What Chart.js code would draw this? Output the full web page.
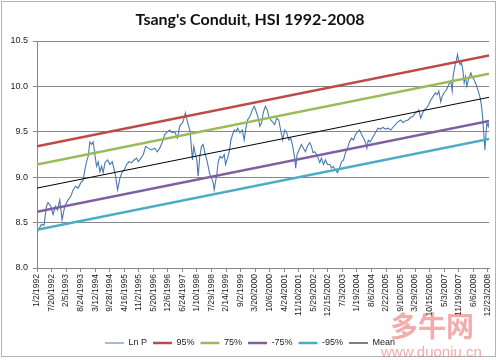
<!DOCTYPE html>
<html><head><meta charset="utf-8">
<script src="https://cdn.jsdelivr.net/npm/chart.js@4/dist/chart.umd.min.js"></script>
<style>html,body{margin:0;padding:0;background:#fff}#wrap{width:500px;height:360px}</style>
</head><body><div id="wrap"><canvas id="c" width="500" height="360"></canvas></div>
<script>
const xTickLabels = ['1/2/1992','7/20/1992','2/5/1993','8/24/1993','3/12/1994','9/28/1994','4/16/1995','11/2/1995','5/20/1996','12/6/1996','6/24/1997','1/10/1998','7/29/1998','2/14/1999','9/2/1999','3/20/2000','10/6/2000','4/24/2001','11/10/2001','5/29/2002','12/15/2002','7/3/2003','1/19/2004','8/6/2004','2/22/2005','9/10/2005','3/29/2006','10/15/2006','5/3/2007','11/19/2007','6/6/2008','12/23/2008'];
const tickStepDays = 200;
const axisEndDay = 6218;
const yTicks = [8.0, 8.5, 9.0, 9.5, 10.0, 10.5];

// Days since 1/2/1992
const lnpDays = [
0,60,97,129,152,189,221,253,281,313,
345,382,428,465,497,529,566,603,635,658,
681,704,727,750,773,796,819,842,865,888,
911,934,970,1003,1035,1062,1081,1108,1140,1173,
1200,1232,1265,1301,1338,1370,1393,1430,1462,1494,
1531,1573,1619,1655,1688,1720,1756,1793,1825,1858,
1894,1931,1963,2009,2041,2069,2087,2106,2124,2138,
2156,2179,2198,2216,2239,2262,2285,2308,2336,2354,
2377,2400,2423,2437,2455,2473,2492,2519,2547,2575,
2593,2621,2648,2667,2690,2713,2736,2759,2791,2823,
2850,2873,2896,2929,2961,2989,3020,3043,3066,3089,
3112,3140,3168,3186,3213,3241,3269,3296,3324,3351,
3379,3407,3434,3462,3489,3517,3545,3558,3577,3604,
3637,3664,3692,3719,3751,3774,3797,3820,3843,3866,
3889,3912,3940,3967,3995,4027,4050,4073,4105,4133,
4160,4188,4216,4243,4271,4298,4326,4354,4381,4409,
4436,4464,4492,4519,4537,4556,4583,4611,4639,4689,
4726,4758,4790,4827,4864,4896,4928,4965,5002,5034,
5066,5103,5140,5172,5204,5232,5250,5278,5296,5323,
5356,5388,5415,5448,5480,5507,5526,5553,5572,5599,
5631,5664,5691,5710,5723,5746,5769,5783,5801,5820,
5838,5857,5875,5893,5912,5939,5967,5985,6013,6040,
6068,6096,6114,6128,6141,6151,6160,6174,6188,6206,6218];
const lnpValues = [
8.39,8.48,8.47,8.68,8.72,8.68,8.59,8.68,8.64,8.75,
8.53,8.68,8.75,8.79,8.86,8.90,8.88,8.94,8.97,9.08,
9.17,9.23,9.39,9.36,9.39,9.25,9.12,9.17,9.06,9.12,
9.05,9.16,9.19,9.14,9.17,9.08,9.01,8.86,8.99,9.06,
9.08,9.14,9.17,9.16,9.19,9.21,9.17,9.21,9.25,9.34,
9.32,9.30,9.32,9.28,9.32,9.38,9.47,9.50,9.52,9.49,
9.50,9.43,9.56,9.61,9.71,9.61,9.56,9.50,9.32,9.19,
9.34,9.25,9.19,9.01,9.23,9.34,9.36,9.27,9.19,9.12,
9.03,8.99,8.94,8.86,8.95,9.03,9.17,9.23,9.21,9.25,
9.14,9.21,9.30,9.41,9.47,9.52,9.50,9.54,9.49,9.52,
9.41,9.54,9.63,9.67,9.74,9.78,9.71,9.65,9.56,9.60,
9.71,9.78,9.74,9.67,9.63,9.61,9.58,9.65,9.63,9.52,
9.41,9.52,9.49,9.41,9.43,9.34,9.21,9.10,9.25,9.30,
9.36,9.32,9.28,9.34,9.38,9.34,9.27,9.28,9.25,9.21,
9.16,9.21,9.14,9.19,9.14,9.14,9.10,9.12,9.08,9.05,
9.10,9.17,9.19,9.27,9.32,9.39,9.43,9.41,9.47,9.50,
9.52,9.47,9.43,9.38,9.32,9.41,9.39,9.43,9.47,9.54,
9.53,9.55,9.53,9.54,9.52,9.55,9.58,9.61,9.63,9.60,
9.62,9.63,9.66,9.67,9.71,9.72,9.74,9.65,9.69,9.74,
9.76,9.80,9.85,9.89,9.93,9.91,9.95,9.83,9.89,9.93,
9.96,10.02,10.06,9.95,10.11,10.22,10.29,10.35,10.28,10.24,
10.26,10.18,10.04,10.11,10.00,10.09,10.15,10.11,10.07,10.02,
9.95,9.87,9.78,9.67,9.52,9.41,9.30,9.47,9.60,9.56,9.61];

const bandDays = [0, 6218];
const band95 = [9.34, 10.34];
const band75 = [9.14, 10.14];
const bandMean = [8.88, 9.88];
const bandM75 = [8.62, 9.62];
const bandM95 = [8.42, 9.42];

const toPts = (xs, ys) => xs.map((x, i) => ({x: x, y: ys[i]}));
const gridColor = '#888888';
const txtColor = '#222222';

const framePlugin = {
  id: 'frame',
  beforeDraw(chart) {
    const c = chart.ctx;
    c.save();
    c.fillStyle = '#ffffff';
    c.fillRect(0, 0, chart.width, chart.height);
    c.restore();
  },
  afterDraw(chart) {
    const c = chart.ctx;
    c.save();
    c.strokeStyle = '#b4b4b4';
    c.lineWidth = 1;
    c.strokeRect(1.5, 1.5, 494, 355);
    c.fillStyle = 'rgba(232,90,90,0.5)';
    c.font = 'bold 28px "Noto Sans CJK SC"';
    c.textBaseline = 'alphabetic';
    c.textAlign = 'left';
    c.fillText('多牛网', 390, 337);
    c.font = '15px "Liberation Sans"';
    c.fillStyle = 'rgba(232,100,100,0.55)';
    c.fillText('www.duoniu.cn', 381, 357);
    c.restore();
  }
};

new Chart(document.getElementById('c'), {
  type: 'line',
  data: {
    datasets: [
      {label: 'Mean', data: toPts(bandDays, bandMean), borderColor: '#000000', borderWidth: 1},
      {label: '-95%', data: toPts(bandDays, bandM95), borderColor: '#4BACC6', borderWidth: 2.5},
      {label: '-75%', data: toPts(bandDays, bandM75), borderColor: '#7F5FA3', borderWidth: 2.5},
      {label: '75%', data: toPts(bandDays, band75), borderColor: '#9BBB59', borderWidth: 2.5},
      {label: '95%', data: toPts(bandDays, band95), borderColor: '#BE4A47', borderWidth: 2.5},
      {label: 'Ln P', data: toPts(lnpDays, lnpValues), borderColor: '#4A78B0', borderWidth: 1.1}
    ]
  },
  options: {
    responsive: false,
    animation: false,
    elements: {point: {radius: 0}, line: {tension: 0, fill: false}},
    layout: {padding: {left: 0, right: 0, top: 0, bottom: 2.5}},
    plugins: {
      tooltip: {enabled: false},
      title: {
        display: true,
        text: "Tsang's Conduit, HSI 1992-2008",
        color: '#111111',
        font: {family: 'Lato', weight: 'bold', size: 16},
        padding: {top: 10.5, bottom: 11.3}
      },
      legend: {
        position: 'bottom',
        reverse: true,
        labels: {
          usePointStyle: true,
          pointStyle: 'line',
          pointStyleWidth: 19,
          padding: 6,
          color: txtColor,
          font: {family: 'Liberation Sans', size: 9}
        }
      }
    },
    scales: {
      x: {
        type: 'linear',
        min: 0,
        max: axisEndDay,
        afterFit: s => { s.height = 64.5; },
        afterBuildTicks: s => { s.ticks = xTickLabels.map((_, i) => ({value: i * tickStepDays})); },
        ticks: {
          autoSkip: false,
          minRotation: 90,
          maxRotation: 90,
          padding: 2,
          color: txtColor,
          font: {family: 'Liberation Sans', size: 8.5},
          callback: (v, i) => xTickLabels[i]
        },
        grid: {drawOnChartArea: false, drawTicks: true, tickLength: 4, color: gridColor},
        border: {display: true, color: gridColor}
      },
      y: {
        type: 'linear',
        min: 8,
        max: 10.5,
        afterFit: s => { s.width = 37; },
        afterBuildTicks: s => { s.ticks = yTicks.map(v => ({value: v})); },
        ticks: {
          padding: 5,
          color: txtColor,
          font: {family: 'Liberation Sans', size: 9},
          callback: v => Number(v).toFixed(1)
        },
        grid: {color: gridColor, tickLength: 4},
        border: {display: true, color: gridColor}
      }
    }
  },
  plugins: [framePlugin]
});
</script>
</body></html>
